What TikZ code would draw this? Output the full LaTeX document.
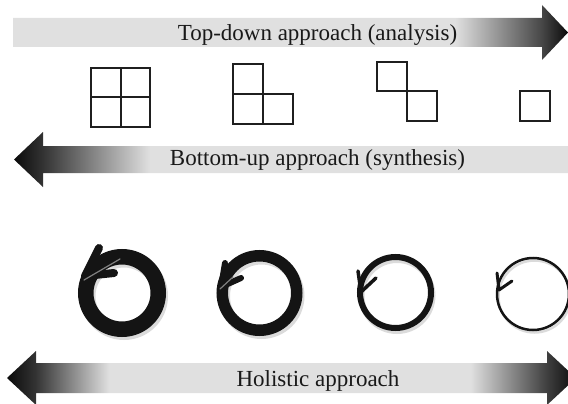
\documentclass[tikz,border=0pt]{standalone}
\usepackage{fontspec}
\setmainfont{Liberation Serif}

% Horizontal shadings for the three arrows (path box spans 25bp--75bp)
\pgfdeclarehorizontalshading{topdownshade}{100bp}{%
  color(0bp)=(black!12); color(64.8bp)=(black!12);
  color(72.6bp)=(black!72); color(75bp)=(black!96); color(100bp)=(black!96)}
\pgfdeclarehorizontalshading{bottomupshade}{100bp}{%
  color(0bp)=(black!96); color(25bp)=(black!96);
  color(27.6bp)=(black!80); color(37.3bp)=(black!12); color(100bp)=(black!12)}
\pgfdeclarehorizontalshading{holisticshade}{100bp}{%
  color(0bp)=(black!96); color(25bp)=(black!96);
  color(27.5bp)=(black!80); color(34bp)=(black!12);
  color(65.7bp)=(black!12); color(72.4bp)=(black!75);
  color(75bp)=(black!96); color(100bp)=(black!96)}

\begin{document}
\begin{tikzpicture}[x=1pt,y=-1pt,
  caption/.style={font=\fontsize{23}{26}\selectfont, anchor=base, inner sep=0pt, text=black!90},
  sq/.style={draw=black!88, line width=2pt},
  ringshadow/.style={draw=black!14},
  ring/.style={draw=black!92},
  barb/.style={draw=black!92, line cap=round, line join=round},
  streak/.style={draw=black!50, line width=1.2pt, line cap=round}]
\useasboundingbox (0,0) rectangle (568,404);
\clip (0,0) rectangle (568,404);

% top-down arrow
\shade[shading=topdownshade]
  (13,18) -- (542,18) -- (542,5) -- (568,32.5) -- (542,60) -- (542,47) -- (13,47) -- cycle;
\node[caption] (topdown) at (317.5,41) {Top-down approach (analysis)};

% square decompositions
\draw[sq] (91,68) rectangle (150,127);
\draw[sq] (120.5,68) -- (120.5,127) (91,97.5) -- (150,97.5);

\draw[sq] (233,64.5) rectangle (263,94.5);
\draw[sq] (233,94.5) rectangle (263,124);
\draw[sq] (263,94.5) rectangle (293,124);

\draw[sq] (377,62) rectangle (407,91.5);
\draw[sq] (407,91.5) rectangle (437,120.5);

\draw[sq] (520,91) rectangle (549.5,120.5);

% bottom-up arrow
\shade[shading=bottomupshade]
  (568,146) -- (43,146) -- (43,132) -- (14,159.5) -- (43,187) -- (43,173) -- (568,173) -- cycle;
\node[caption] (bottomup) at (317.5,165) {Bottom-up approach (synthesis)};

% cycle rings, from thick to thin
\draw[ringshadow, line width=15.5pt] (124,296) circle[radius=36.25];
\draw[ring, line width=15.5pt] (122,293) circle[radius=36.25];
\draw[barb, line width=8pt] (99,248) -- (85,276) -- (114,273);
\draw[streak] (120,259) -- (84,280);

\draw[ringshadow, line width=11.5pt] (261.5,296) circle[radius=37.25];
\draw[ring, line width=11.5pt] (259.5,293) circle[radius=37.25];
\draw[barb, line width=6pt] (225,263) -- (221,287) -- (241,278);
\draw[streak] (233,277) -- (220,289);

\draw[ringshadow, line width=6pt] (397,295.5) circle[radius=35.5];
\draw[ring, line width=6pt] (395.5,292.5) circle[radius=35.5];
\draw[barb, line width=3.5pt] (358,271) -- (361,292) -- (376,278);

\draw[ringshadow, line width=2.5pt] (534.5,296.5) circle[radius=36];
\draw[ring, line width=2.5pt] (533,294) circle[radius=36];
\draw[barb, line width=3pt] (497,273) -- (499,290) -- (512,281);

% holistic double arrow
\shade[shading=holisticshade]
  (36,363) -- (547,363) -- (547,351) -- (576,378) -- (547,405) -- (547,393)
  -- (36,393) -- (36,405) -- (7,378) -- (36,351) -- cycle;
\node[caption] (holistic) at (318,386) {Holistic approach};
\end{tikzpicture}
\end{document}
